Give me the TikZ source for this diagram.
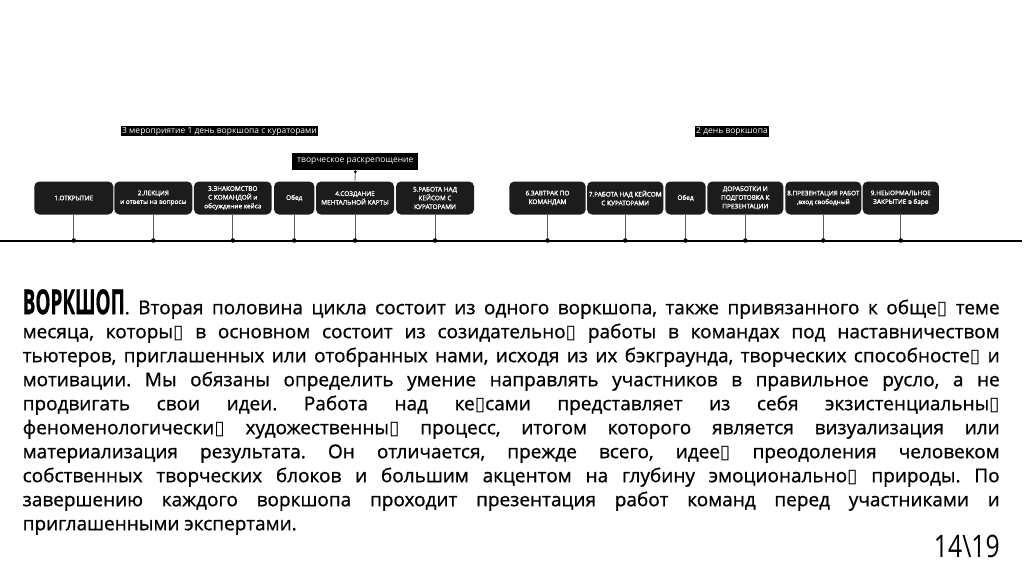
\documentclass[tikz,border=0pt]{standalone}
\usepackage{fontspec}
\usepackage{graphicx}
\setmainfont{Open Sans}[FakeBold=0.9]
\newfontfamily\plainfont{Open Sans}
\newfontfamily\boxfont{Open Sans}[FakeBold=1.4]
\newfontfamily\dejavu{DejaVu Sans}
\frenchspacing
\definecolor{boxfill}{HTML}{1C1C1C}
\definecolor{stemgray}{HTML}{5A5A5A}
\newcommand\tofu{{\dejavu ▯}}
\newcommand\jl[1]{\hbox to 977pt{#1}}
\begin{document}
\begin{tikzpicture}[x=1pt,y=-1pt,
  evt/.style={fill=boxfill, rounded corners=5pt, minimum height=33pt, inner sep=0.5pt, text=white, align=center, font=\boxfont\fontsize{6.45}{8.7}\selectfont},
  tag/.style={fill=black, text=white, inner sep=1.2pt, font=\plainfont\fontsize{8.5}{10}\selectfont},
  stem/.style={draw=stemgray, line width=0.8pt},
  knot/.style={circle, fill=black, inner sep=0pt, minimum size=4.5pt},
  axis/.style={draw=black, line width=2pt}
]
\useasboundingbox[fill=white] (0,0) rectangle (1024,576);

% timeline
\coordinate (tl0) at (0,240.5);
\coordinate (tl1) at (1022,240.5);
\draw[axis] (tl0) -- (tl1);

% day labels
\node[tag] (day1) at (219.5,131) {3 мероприятие 1 день воркшопа с кураторами};
\node[tag] (day2) at (732,131.5) {2 день воркшопа};

% events day 1
\node[evt, minimum width=79pt] (b1) at (73.8,198) {1.ОТКРЫТИЕ};
\node[evt, minimum width=78pt] (b2) at (153.3,198) {2.ЛЕКЦИЯ\\и ответы на вопросы};
\node[evt, minimum width=77.7pt] (b3) at (232.8,198) {3.ЗНАКОМСТВО\\С КОМАНДОЙ и\\обсуждение кейса};
\node[evt, minimum width=40.3pt] (b4) at (294.2,198) {Обед};
\node[evt, minimum width=78pt] (b5) at (355,198) {4.СОЗДАНИЕ\\МЕНТАЛЬНОЙ КАРТЫ};
\node[evt, minimum width=78pt] (b6) at (435,198) {5.РАБОТА НАД\\КЕЙСОМ С\\КУРАТОРАМИ};
% events day 2
\node[evt, minimum width=76.4pt] (b7) at (547.5,198) {6.ЗАВТРАК ПО\\КОМАНДАМ};
\node[evt, minimum width=76.3pt] (b8) at (625.2,198) {7.РАБОТА НАД КЕЙСОМ\\С КУРАТОРАМИ};
\node[evt, minimum width=40.4pt] (b9) at (685.5,198) {Обед};
\node[evt, minimum width=76pt] (b10) at (745.3,198) {ДОРАБОТКИ И\\ПОДГОТОВКА К\\ПРЕЗЕНТАЦИИ};
\node[evt, minimum width=76pt] (b11) at (823.3,198) {8.ПРЕЗЕНТАЦИЯ РАБОТ\\,вход свободный};
\node[evt, minimum width=76.3pt] (b12) at (900.8,198) {9.НЕЫОРМАЛЬНОЕ\\ЗАКРЫТИЕ в баре};

% stems to the timeline
\foreach \b in {b1,b2,b3,b4,b5,b6,b7,b8,b9,b10,b11,b12}{
  \coordinate (\b-d) at (\b.south |- tl0);
  \draw[stem] (\b.south) -- (\b-d);
  \node[knot] at (\b-d) {};
}

% creative release label
\node[tag, minimum width=126pt, minimum height=17pt] (free) at (355.3,161.6) {творческое раскрепощение};
\draw[stem] (free.south) -- (b5.north);
\node[knot, minimum size=3pt] at ([yshift=-1.5pt]free.south) {};

% body text
\node[anchor=north west, inner sep=0pt, font=\fontsize{19}{24}\selectfont] (body) at (22.5,289) {\vbox{%
\jl{\resizebox{102pt}{25pt}{\bfseries ВОРКШОП}. Вторая половина цикла состоит из одного воркшопа, также привязанного к обще\tofu{} теме}
\jl{месяца, которы\tofu{} в основном состоит из созидательно\tofu{} работы в командах под наставничеством}
\jl{тьютеров, приглашенных или отобранных нами, исходя из их бэкграунда, творческих способносте\tofu{} и}
\jl{мотивации. Мы обязаны определить умение направлять участников в правильное русло, а не}
\jl{продвигать свои идеи. Работа над ке\tofu{}сами представляет из себя экзистенциальны\tofu}
\jl{феноменологически\tofu{} художественны\tofu{} процесс, итогом которого является визуализация или}
\jl{материализация результата. Он отличается, прежде всего, идее\tofu{} преодоления человеком}
\jl{собственных творческих блоков и большим акцентом на глубину эмоционально\tofu{} природы. По}
\jl{завершению каждого воркшопа проходит презентация работ команд перед участниками и}
\hbox{приглашенными экспертами.}}};

% page number
\node[anchor=base east, inner sep=0pt, font=\plainfont\fontsize{31}{31}\selectfont] (pg) at (1000,557) {\scalebox{0.8}[1]{14\textbackslash 19}};
\end{tikzpicture}
\end{document}
